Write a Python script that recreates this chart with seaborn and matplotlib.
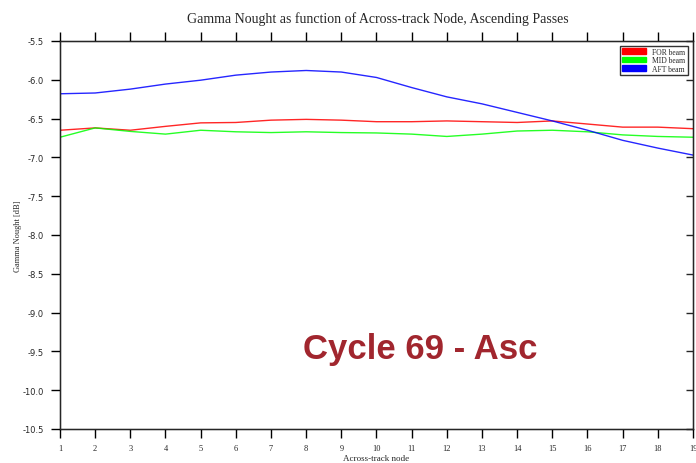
import numpy as np
import pandas as pd
import matplotlib
matplotlib.use("Agg")
import matplotlib.pyplot as plt
from matplotlib.patches import Patch
import seaborn as sns

nodes = list(range(1, 20))
for_beam = [-6.65, -6.62, -6.65, -6.60, -6.555, -6.55, -6.52, -6.51, -6.52, -6.54,
            -6.54, -6.53, -6.54, -6.55, -6.53, -6.57, -6.61, -6.61, -6.63]
mid_beam = [-6.74, -6.62, -6.665, -6.70, -6.65, -6.67, -6.68, -6.67, -6.68, -6.685,
            -6.70, -6.73, -6.70, -6.66, -6.65, -6.67, -6.71, -6.73, -6.74]
aft_beam = [-6.18, -6.17, -6.12, -6.055, -6.005, -5.94, -5.90, -5.88, -5.90, -5.97,
            -6.10, -6.22, -6.31, -6.42, -6.53, -6.65, -6.78, -6.88, -6.97]
series_names = ["FOR beam", "MID beam", "AFT beam"]
colors = ["#ff0000", "#00ff00", "#0000ff"]
yticks = [-5.5, -6.0, -6.5, -7.0, -7.5, -8.0, -8.5, -9.0, -9.5, -10.0, -10.5]

df = pd.DataFrame({
    "node": nodes * 3,
    "value": for_beam + mid_beam + aft_beam,
    "beam": sum([[n] * len(nodes) for n in series_names], []),
})

sns.set_style("white")
plt.rcParams["font.family"] = ["Liberation Serif", "DejaVu Serif"]

fig = plt.figure(figsize=(6.96, 4.64), dpi=100)
W, H = 696, 464
left, right, top, bottom = 60, 693, 42, 430
ax = fig.add_axes([left / W, 1 - bottom / H, (right - left) / W, (bottom - top) / H])

sns.lineplot(data=df, x="node", y="value", hue="beam", palette=colors,
             hue_order=series_names, ax=ax, linewidth=1.0, alpha=0.85, legend=False)

ax.set_xlim(1, 19)
ax.set_ylim(-10.5, -5.5)
ax.set_xticks(nodes)
ax.set_xticklabels([str(n) for n in nodes], fontsize=6)
ax.set_yticks(yticks)
ax.set_yticklabels([f"{t:.1f}" for t in yticks], fontsize=6, family="DejaVu Sans")
ax.tick_params(axis="both", direction="out", length=6.5, width=1, color="black",
               pad=5, top=True, bottom=True, left=True)
ax.tick_params(axis="x", pad=4)
for s in ax.spines.values():
    s.set_color("black")
    s.set_linewidth(1.0)

ax2 = ax.twinx()
ax2.set_ylim(-10.5, -5.5)
ax2.set_yticks(yticks)
ax2.tick_params(axis="y", direction="in", length=5, width=1, labelright=False)
ax2.grid(False)

ax.set_xlabel("Across-track node", fontsize=6.5)
ax.xaxis.set_label_coords(0.5, -(459 - bottom) / (bottom - top), transform=ax.transAxes)
ax.xaxis.label.set_va("center")
ax.set_ylabel("Gamma Nought [dB]", fontsize=6)
ax.yaxis.set_label_coords((18 - left) / (right - left), 0.5, transform=ax.transAxes)
ax.yaxis.label.set_va("center")
fig.text(0.5 * (165 + 590) / W, 1 - 19 / H,
         "Gamma Nought as function of Across-track Node, Ascending Passes",
         ha="center", va="center", fontsize=10)

handles = [Patch(facecolor=c, edgecolor=c) for c in colors]
leg = ax.legend(handles, series_names, loc="upper right", fontsize=5.5,
                frameon=True, fancybox=False, edgecolor="black", handlelength=3.2,
                handleheight=0.75, borderpad=0.3, labelspacing=0.05, handletextpad=0.8,
                bbox_to_anchor=(0.998, 0.998))
leg.get_frame().set_linewidth(1.0)

fig.text(420 / W, 1 - 350 / H, "Cycle 69 - Asc", ha="center", va="center",
         fontsize=25, fontweight="bold", color="#a1262e",
         family=["Liberation Sans", "DejaVu Sans"])

fig.savefig("out.png", dpi=100)
